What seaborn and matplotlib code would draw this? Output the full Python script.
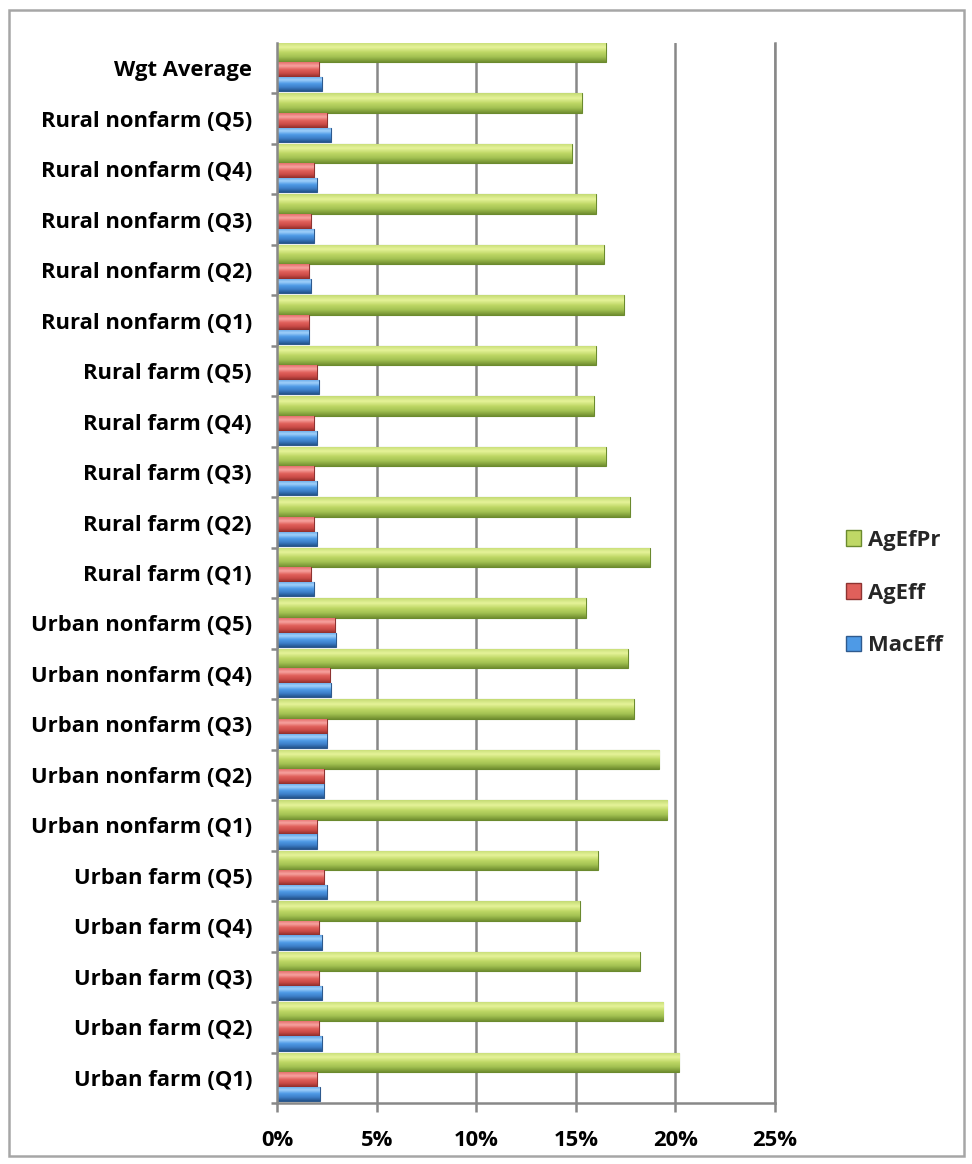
import numpy as np
import pandas as pd
import matplotlib
matplotlib.use("Agg")
import matplotlib.pyplot as plt
from matplotlib.patches import Patch, Rectangle
from matplotlib.colors import LinearSegmentedColormap
from matplotlib.ticker import PercentFormatter, FixedLocator
import seaborn as sns

# Groups, listed top to bottom
categories = [
    "Wgt Average",
    "Rural nonfarm (Q5)", "Rural nonfarm (Q4)", "Rural nonfarm (Q3)",
    "Rural nonfarm (Q2)", "Rural nonfarm (Q1)",
    "Rural farm (Q5)", "Rural farm (Q4)", "Rural farm (Q3)",
    "Rural farm (Q2)", "Rural farm (Q1)",
    "Urban nonfarm (Q5)", "Urban nonfarm (Q4)", "Urban nonfarm (Q3)",
    "Urban nonfarm (Q2)", "Urban nonfarm (Q1)",
    "Urban farm (Q5)", "Urban farm (Q4)", "Urban farm (Q3)",
    "Urban farm (Q2)", "Urban farm (Q1)",
]

# Shares in percent
agefpr = [16.5, 15.3, 14.8, 16.0, 16.4, 17.4, 16.0, 15.9, 16.5, 17.7, 18.7,
          15.5, 17.6, 17.9, 19.2, 19.6, 16.1, 15.2, 18.2, 19.4, 20.2]
ageff = [2.1, 2.5, 1.85, 1.7, 1.6, 1.6, 2.0, 1.85, 1.85, 1.85, 1.7,
         2.9, 2.65, 2.5, 2.35, 2.0, 2.35, 2.1, 2.1, 2.1, 2.0]
maceff = [2.25, 2.7, 2.0, 1.85, 1.7, 1.6, 2.1, 2.0, 2.0, 2.0, 1.85,
          2.95, 2.7, 2.5, 2.35, 2.0, 2.5, 2.25, 2.25, 2.25, 2.15]

series = ["AgEfPr", "AgEff", "MacEff"]
x_ticks = [0, 5, 10, 15, 20, 25]

df = pd.DataFrame({
    "category": categories * 3,
    "series": np.repeat(series, len(categories)),
    "value": agefpr + ageff + maceff,
})

base_colors = {"AgEfPr": "#9BBB59", "AgEff": "#C0504D", "MacEff": "#4F81BD"}
edge_colors = {"AgEfPr": "#6B8A2E", "AgEff": "#8E3331", "MacEff": "#2E5A8E"}
# vertical shading of each bar (top -> bottom) for a bevelled look
shades = {
    "AgEfPr": ["#C4DB74", "#E6F39A", "#BFD866", "#A2C152", "#718F30"],
    "AgEff": ["#E5706C", "#F7A3A0", "#E0605B", "#CB4B47", "#8F2E2B"],
    "MacEff": ["#62A4E6", "#A0D0FA", "#4E9AE6", "#3D7FC8", "#24548C"],
}

sns.set_theme(style="white")
plt.rcParams["font.family"] = ["Open Sans", "DejaVu Sans"]
plt.rcParams["font.weight"] = "bold"
FS = 15.8

W, H = 972, 1164
fig = plt.figure(figsize=(W / 100, H / 100), dpi=100)
ax_left, ax_right, ax_top, ax_bottom = 277, 775, 43, 1103
ax = fig.add_axes([ax_left / W, 1 - ax_bottom / H,
                   (ax_right - ax_left) / W, (ax_bottom - ax_top) / H])

sns.barplot(data=df, x="value", y="category", hue="series", orient="h",
            order=categories, hue_order=series,
            palette=base_colors, width=0.96, dodge=True,
            legend=False, ax=ax, zorder=3)

# unequal slot thickness inside each group: green thicker than the other two
slots = {"AgEfPr": (-0.50, 0.385), "AgEff": (-0.115, 0.295), "MacEff": (0.18, 0.28)}
for name, cont in zip(series, ax.containers):
    off, hh = slots[name]
    cmap = LinearSegmentedColormap.from_list(name, shades[name])
    grad = np.linspace(0, 1, 64).reshape(-1, 1)
    for i, p in enumerate(cont.patches):
        p.set_y(i + off)
        p.set_height(hh)
        p.set_edgecolor(edge_colors[name])
        p.set_linewidth(0.8)
        x0, y0 = p.get_x(), p.get_y()
        w, h = p.get_width(), p.get_height()
        im = ax.imshow(grad, cmap=cmap, aspect="auto", origin="upper",
                       extent=(x0, x0 + w, y0 + h, y0), zorder=3.5,
                       interpolation="bilinear")
        im.set_clip_path(p)

ax.set_xlim(0, 25)
ax.set_ylim(len(categories) - 0.5, -0.5)

# grid and axes
grid_c = "#888888"
ax.xaxis.set_major_locator(FixedLocator(x_ticks))
ax.xaxis.set_major_formatter(PercentFormatter(100, decimals=0))
ax.grid(axis="x", color=grid_c, linewidth=1.8, zorder=0)
ax.grid(axis="y", visible=False)
ax.spines["top"].set_visible(False)
for s in ["left", "bottom", "right"]:
    ax.spines[s].set_color(grid_c)
    ax.spines[s].set_linewidth(1.8)
    ax.spines[s].set_zorder(4)

ax.set_yticks(np.arange(len(categories)) + 0.5, minor=True)
ax.tick_params(axis="y", which="major", length=0, pad=18,
               labelsize=FS, labelcolor="black")
ax.tick_params(axis="y", which="minor", left=True, right=False, length=4.5,
               width=1.8, color=grid_c, direction="out")
ax.tick_params(axis="x", which="major", bottom=True, length=6.5, width=1.8,
               color=grid_c, direction="out", pad=13,
               labelsize=FS, labelcolor="black")
for lab in ax.get_yticklabels() + ax.get_xticklabels():
    lab.set_fontweight("bold")
ax.set_xlabel("")
ax.set_ylabel("")

handles = [Patch(facecolor=shades[n][2], edgecolor=edge_colors[n], label=n)
           for n in series]
leg = ax.legend(handles=handles, loc="center left",
                bbox_to_anchor=((846 - ax_left) / (ax_right - ax_left), 1 - (593 - ax_top) / (ax_bottom - ax_top)),
                frameon=False, prop={"weight": "bold", "size": FS},
                handlelength=0.7, handleheight=0.7, handletextpad=0.3,
                labelspacing=1.45, borderpad=0, borderaxespad=0)

# chart area border
fig.patches.append(Rectangle((9 / W, 1 - 1156 / H), (964 - 9) / W, (1156 - 10) / H,
                             transform=fig.transFigure, fill=False,
                             edgecolor="#A6A6A6", linewidth=1.8))

fig.savefig("out.png", dpi=100, facecolor="white")
